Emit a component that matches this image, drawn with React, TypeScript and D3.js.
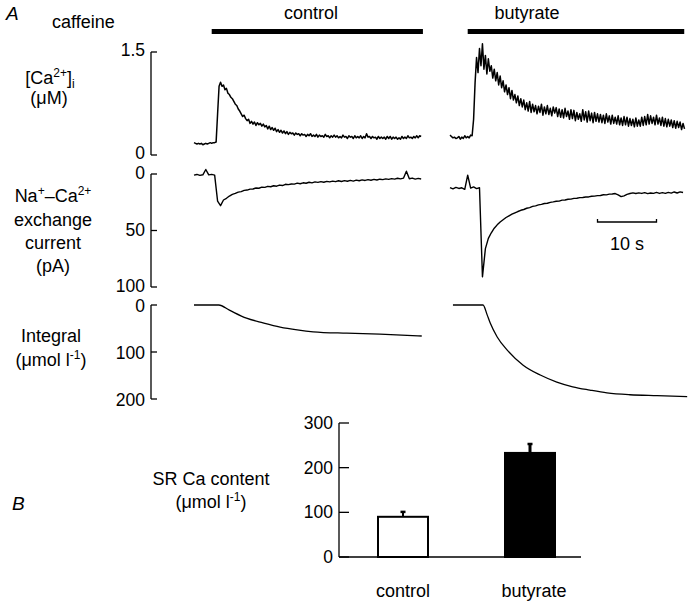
import React from 'react';
import * as d3 from 'd3';

const CA_DT = 0.25;
const CUR_DT = 0.5;

// [Ca2+]i (µM), control
const caControl = [
  0.18, 0.17, 0.16, 0.17, 0.16, 0.17, 0.15, 0.16, 0.17, 0.16, 0.17, 0.18,
  0.17, 0.18, 0.18, 0.19, 0.60, 1.00, 1.06, 1.00, 1.02, 0.95, 0.97, 0.90,
  0.88, 0.84, 0.82, 0.78, 0.74, 0.72, 0.67, 0.64, 0.60, 0.56, 0.58, 0.53,
  0.50, 0.52, 0.46, 0.49, 0.45, 0.48, 0.43, 0.47, 0.44, 0.46, 0.42, 0.45,
  0.41, 0.43, 0.38, 0.42, 0.37, 0.40, 0.36, 0.39, 0.34, 0.37, 0.33, 0.36,
  0.32, 0.35, 0.31, 0.34, 0.30, 0.33, 0.31, 0.32, 0.29, 0.32, 0.30, 0.31,
  0.28, 0.31, 0.29, 0.30, 0.27, 0.30, 0.28, 0.31, 0.27, 0.29, 0.27, 0.30,
  0.26, 0.29, 0.27, 0.28, 0.26, 0.30, 0.27, 0.28, 0.25, 0.28, 0.26, 0.29,
  0.26, 0.28, 0.25, 0.27, 0.25, 0.29, 0.26, 0.27, 0.24, 0.28, 0.26, 0.27,
  0.24, 0.28, 0.25, 0.27, 0.25, 0.28, 0.24, 0.27, 0.25, 0.31, 0.26, 0.27,
  0.24, 0.27, 0.25, 0.26, 0.23, 0.27, 0.24, 0.26, 0.24, 0.26, 0.23, 0.27,
  0.24, 0.27, 0.23, 0.26, 0.24, 0.26, 0.23, 0.25, 0.23, 0.27, 0.24, 0.26,
  0.24, 0.28, 0.25, 0.26, 0.24, 0.27, 0.25, 0.28, 0.25, 0.28, 0.27,
];

// [Ca2+]i (µM), butyrate
const caButyrate = [
  0.29, 0.27, 0.25, 0.26, 0.24, 0.25, 0.27, 0.23, 0.26, 0.24, 0.28, 0.25,
  0.27, 0.25, 0.29, 0.28, 0.52, 1.05, 1.42, 1.20, 1.55, 1.30, 1.62, 1.25,
  1.45, 1.18, 1.40, 1.22, 1.30, 1.12, 1.25, 1.08, 1.20, 1.02, 1.15, 0.98,
  1.08, 0.92, 1.02, 0.88, 0.98, 0.82, 0.94, 0.80, 0.88, 0.76, 0.86, 0.72,
  0.82, 0.70, 0.80, 0.66, 0.76, 0.64, 0.78, 0.62, 0.74, 0.63, 0.72, 0.60,
  0.71, 0.62, 0.74, 0.58, 0.70, 0.60, 0.72, 0.59, 0.68, 0.57, 0.70, 0.61,
  0.69, 0.56, 0.67, 0.55, 0.66, 0.54, 0.68, 0.56, 0.64, 0.52, 0.66, 0.53,
  0.65, 0.50, 0.62, 0.52, 0.60, 0.49, 0.66, 0.51, 0.63, 0.48, 0.64, 0.50,
  0.61, 0.47, 0.62, 0.49, 0.60, 0.48, 0.59, 0.47, 0.58, 0.46, 0.60, 0.48,
  0.57, 0.45, 0.58, 0.46, 0.55, 0.45, 0.57, 0.44, 0.54, 0.43, 0.56, 0.44,
  0.55, 0.42, 0.53, 0.43, 0.52, 0.41, 0.54, 0.42, 0.51, 0.42, 0.55, 0.43,
  0.56, 0.44, 0.59, 0.45, 0.57, 0.46, 0.55, 0.44, 0.58, 0.45, 0.54, 0.43,
  0.55, 0.42, 0.53, 0.41, 0.52, 0.42, 0.51, 0.40, 0.50, 0.39, 0.49, 0.40,
  0.48, 0.37, 0.46, 0.38,
];

// Na+-Ca2+ exchange current (pA, inward plotted downward), control
const curControl = [
  1.0, 0.4, 1.2, 0.7, -4.0, 0.8, 0.3, 1.0, 24, 28,
  23, 21.5, 19.5, 18, 17.2, 16, 15.6, 14.5, 14.2, 13.4,
  13.3, 12.4, 12.6, 11.6, 11.8, 10.9, 11.3, 10.4, 10.8, 9.8,
  10.2, 9.1, 9.4, 8.8, 9.0, 8.1, 8.6, 7.8, 8.2, 7.3,
  7.8, 7.0, 7.4, 6.8, 7.3, 6.5, 7.0, 6.3, 6.8, 6.0,
  6.6, 5.9, 6.4, 5.7, 6.3, 5.4, 6.0, 5.2, 5.7, 5.0,
  5.5, 4.8, 5.3, 4.6, 5.0, 4.3, 4.8, 4.1, 4.5, 3.8,
  4.3, 3.7, -2.5, 4.2, 3.6, 4.5, 3.9, 4.4,
];

// Na+-Ca2+ exchange current (pA), butyrate
const curButyrate = [
  12, 13.2, 11.8, 12.8, 12.2, 13.6, 1, 12.5, 11.4, 12.9,
  12.2, 91, 66, 57, 52, 48, 45, 42.5, 40.5, 38.5,
  37, 35.6, 34.4, 33.2, 32.1, 31.4, 30.3, 29.7, 28.7, 28.2,
  27.3, 26.9, 26.1, 25.9, 25.1, 24.7, 24.1, 24.0, 23.1, 23.0,
  22.3, 22.2, 21.6, 21.5, 20.9, 20.8, 20.3, 20.3, 19.7, 19.6,
  19.1, 19.0, 18.4, 18.5, 17.8, 17.7, 17.3, 18.4, 20.0, 19.3,
  18.0, 17.3, 16.7, 17.3, 16.7, 17.2, 16.5, 17.4, 16.8, 17.1,
  16.3, 17.2, 16.5, 17.1, 16.3, 16.9, 15.9, 16.8, 15.8, 16.4,
];

// integral of the current (µmol l-1): [time s, value]
const intControl: [number, number][] = [
  [0, 0], [4.2, 0], [6.0, 11], [8.9, 28], [11.7, 38], [14.6, 47],
  [17.5, 53], [20.2, 57], [25.9, 60], [31.5, 62], [38.6, 66],
];
const intButyrate: [number, number][] = [
  [0.5, 0], [5.6, 0], [6.3, 21], [6.8, 38], [8.0, 68], [9.7, 96],
  [12.4, 128], [15.3, 149], [18.1, 164], [20.8, 174], [23.7, 181],
  [26.6, 187], [30.5, 191], [35.1, 193], [40.2, 195],
];

// caffeine application (s)
const caffeineControl = [3.0, 38.8];
const caffeineButyrate = [3.0, 39.7];

// bar chart B
const barCategories = ['control', 'butyrate'];
const barMeans = [90, 233];
const barSEM = [11, 20];

// tick labels
const caTicks = [0, 1.5];
const curTicks = [0, 50, 100];
const intTicks = [0, 100, 200];
const barTicks = [0, 100, 200, 300];

const FONT = '"Liberation Sans", Arial, Helvetica, sans-serif';

export default function App() {
  const W = 693, H = 607;
  const xC = d3.scaleLinear().domain([0, 40]).range([194, 430]);
  const xB = d3.scaleLinear().domain([0, 40]).range([450, 686]);
  const yCa = d3.scaleLinear().domain([0, 1.5]).range([155, 52]);
  const yCur = d3.scaleLinear().domain([0, 100]).range([174, 287]);
  const yInt = d3.scaleLinear().domain([0, 200]).range([305, 399]);
  const yBar = d3.scaleLinear().domain([0, 300]).range([557, 423]);
  const xBar = d3.scalePoint<string>().domain(barCategories).range([403, 530]);
  const barW = 50;

  const sampled = (x: d3.ScaleLinear<number, number>, y: d3.ScaleLinear<number, number>, dt: number) =>
    d3.line<number>().x((_, i) => x(i * dt)).y((d) => y(d));
  const smooth = (x: d3.ScaleLinear<number, number>, y: d3.ScaleLinear<number, number>) =>
    d3.line<[number, number]>().x((d) => x(d[0])).y((d) => y(d[1])).curve(d3.curveMonotoneX);

  const axisX = 151;
  const vAxis = (y: d3.ScaleLinear<number, number>, ticks: number[], key: string, dy: number) => (
    <g key={key}>
      <line x1={axisX} x2={axisX} y1={y(ticks[0])} y2={y(ticks[ticks.length - 1])} stroke="#000" strokeWidth={1.3} />
      {ticks.map((t) => (
        <g key={t}>
          <line x1={axisX} x2={axisX + 6} y1={y(t)} y2={y(t)} stroke="#000" strokeWidth={1.3} />
          <text x={axisX - 6} y={y(t) + dy} textAnchor="end" fontSize={17.5}>{String(t)}</text>
        </g>
      ))}
    </g>
  );

  const traceStyle = { fill: 'none', stroke: '#000', strokeLinejoin: 'round' as const };

  return (
    <svg width={W} height={H} style={{ position: 'absolute', left: 0, top: 0, background: '#fff' }} fontFamily={FONT}>
      <rect width={W} height={H} fill="#fff" />
      {/* Panel A header */}
      <text x={6} y={20} fontSize={19} fontStyle="italic">A</text>
      <text x={52} y={28} fontSize={18}>caffeine</text>
      <rect x={xC(caffeineControl[0])} y={29} width={xC(caffeineControl[1]) - xC(caffeineControl[0])} height={5} fill="#000" />
      <rect x={xB(caffeineButyrate[0])} y={29} width={xB(caffeineButyrate[1]) - xB(caffeineButyrate[0])} height={5} fill="#000" />
      <text x={311} y={19} fontSize={18} textAnchor="middle">control</text>
      <text x={527} y={19} fontSize={18} textAnchor="middle">butyrate</text>

      {/* Row labels */}
      <text x={50} y={84} fontSize={18} textAnchor="middle">
        [Ca<tspan dy={-7} fontSize={12}>2+</tspan><tspan dy={7}>]</tspan><tspan dy={4} fontSize={12}>i</tspan>
      </text>
      <text x={49} y={104} fontSize={18} textAnchor="middle">(μM)</text>

      <text x={53} y={202} fontSize={18} textAnchor="middle">
        Na<tspan dy={-7} fontSize={12}>+</tspan><tspan dy={7}>–Ca</tspan><tspan dy={-7} fontSize={12}>2+</tspan>
      </text>
      <text x={53} y={226} fontSize={18} textAnchor="middle">exchange</text>
      <text x={53} y={249} fontSize={18} textAnchor="middle">current</text>
      <text x={53} y={272} fontSize={18} textAnchor="middle">(pA)</text>

      <text x={51} y={342} fontSize={18} textAnchor="middle">Integral</text>
      <text x={51} y={366} fontSize={18} textAnchor="middle">
        (μmol l<tspan dy={-7} fontSize={12}>-1</tspan><tspan dy={7}>)</tspan>
      </text>

      {/* Axes */}
      {vAxis(yCa, caTicks, 'ca', 4)}
      {vAxis(yCur, curTicks, 'cur', 5)}
      {vAxis(yInt, intTicks, 'int', 7)}

      {/* Traces */}
      <path d={sampled(xC, yCa, CA_DT)(caControl) || ''} {...traceStyle} strokeWidth={1.5} />
      <path d={sampled(xB, yCa, CA_DT)(caButyrate) || ''} {...traceStyle} strokeWidth={1.5} />
      <path d={sampled(xC, yCur, CUR_DT)(curControl) || ''} {...traceStyle} strokeWidth={1.4} />
      <path d={sampled(xB, yCur, CUR_DT)(curButyrate) || ''} {...traceStyle} strokeWidth={1.4} />
      <path d={smooth(xC, yInt)(intControl) || ''} {...traceStyle} strokeWidth={1.3} />
      <path d={smooth(xB, yInt)(intButyrate) || ''} {...traceStyle} strokeWidth={1.3} />

      {/* 10 s scale bar */}
      <path
        d={`M${xB(25)},${219}V${222}H${xB(35)}V${219}`}
        fill="none" stroke="#000" strokeWidth={1.3}
      />
      <text x={(xB(25) + xB(35)) / 2} y={250} fontSize={18} textAnchor="middle">10 s</text>

      {/* Panel B */}
      <text x={12} y={510} fontSize={19} fontStyle="italic">B</text>
      <text x={211} y={485} fontSize={18} textAnchor="middle">SR Ca content</text>
      <text x={211} y={508} fontSize={18} textAnchor="middle">
        (μmol l<tspan dy={-7} fontSize={12}>-1</tspan><tspan dy={7}>)</tspan>
      </text>
      <line x1={339} x2={339} y1={yBar(0)} y2={yBar(300)} stroke="#000" strokeWidth={1.3} />
      {barTicks.map((t) => (
        <g key={t}>
          <line x1={339} x2={349} y1={yBar(t)} y2={yBar(t)} stroke="#000" strokeWidth={1.3} />
          <text x={333} y={yBar(t) + 6} textAnchor="end" fontSize={17.5}>{String(t)}</text>
        </g>
      ))}
      <line x1={339} x2={581} y1={yBar(0)} y2={yBar(0)} stroke="#000" strokeWidth={1.3} />
      {barCategories.map((c, i) => {
        const cx = xBar(c)!;
        const filled = i === 1;
        return (
          <g key={c}>
            <line x1={cx} x2={cx} y1={yBar(barMeans[i])} y2={yBar(barMeans[i] + barSEM[i])} stroke="#000" strokeWidth={filled ? 3 : 2} />
            <line x1={cx - 2.5} x2={cx + 2.5} y1={yBar(barMeans[i] + barSEM[i])} y2={yBar(barMeans[i] + barSEM[i])} stroke="#000" strokeWidth={2.5} />
            <rect
              x={cx - barW / 2}
              y={yBar(barMeans[i])}
              width={barW}
              height={yBar(0) - yBar(barMeans[i])}
              fill={filled ? '#000' : '#fff'}
              stroke="#000"
              strokeWidth={2}
            />
            <text x={cx + (filled ? 4 : 0)} y={597} fontSize={18} textAnchor="middle">{c}</text>
          </g>
        );
      })}
    </svg>
  );
}
